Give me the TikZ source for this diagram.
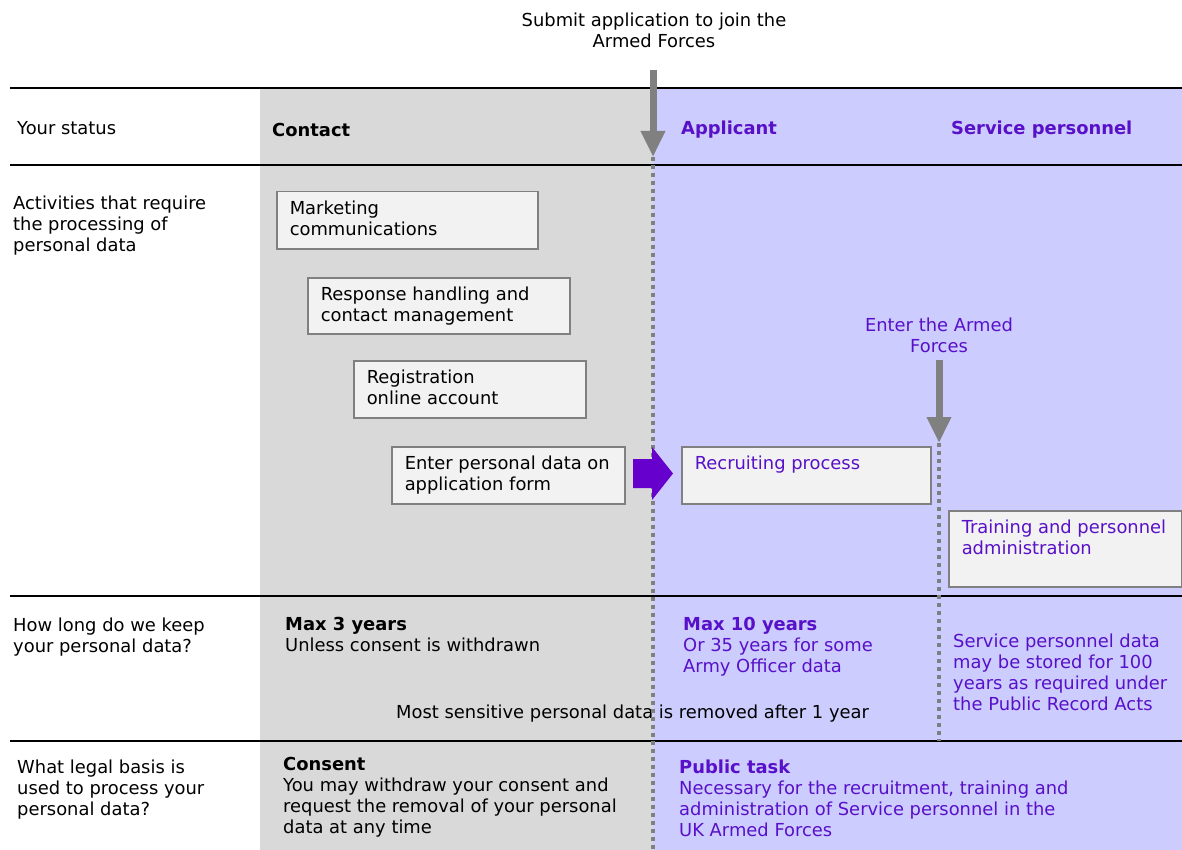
\documentclass[tikz,border=0pt]{standalone}
\usepackage{fontspec}
\setmainfont{DejaVu Sans}
\usetikzlibrary{arrows.meta}
\definecolor{greyband}{RGB}{217,217,217}
\definecolor{lavender}{RGB}{204,204,255}
\definecolor{boxfill}{RGB}{242,242,242}
\definecolor{boxline}{RGB}{128,128,128}
\definecolor{dotgrey}{RGB}{128,128,128}
\definecolor{purpletxt}{RGB}{88,16,200}
\definecolor{purplearrow}{RGB}{102,0,204}
\newcommand{\txtsize}{\fontsize{17.9pt}{21pt}\selectfont}
\newcommand{\boxtext}[3]{\parbox[t][#2][t]{#1}{\strut #3}}
\tikzset{
  lbl/.style={anchor=north west, inner sep=0pt, align=left, font=\txtsize, execute at begin node=\strut},
  clbl/.style={lbl, anchor=north, align=center},
  actbox/.style={draw=boxline, fill=boxfill, line width=1.5pt, anchor=north west,
    inner xsep=13pt, inner ysep=8.5pt, font=\txtsize},
  rowline/.style={black, line width=1.8pt},
  stageline/.style={dotgrey, line width=4.5pt, dash pattern=on 4pt off 4pt},
  stagearrow/.style={dotgrey, line width=7pt, -{Triangle[length=26pt,width=23pt]}}
}
\begin{document}
\begin{tikzpicture}[x=1pt,y=-1pt]
    \useasboundingbox (0,0) rectangle (1182,850);
    % stage backgrounds
    \fill [greyband] (260,88) rectangle (653,850);
    \fill [lavender] (653,88) rectangle (1182,850);
    % row rules
    \draw [rowline] (10,88) -- (1182,88);
    \draw [rowline] (10,165) -- (1182,165);
    \draw [rowline] (10,596) -- (1182,596);
    \draw [rowline] (10,741) -- (1182,741);
    % row headings
    \node [lbl] (status) at (17,119.5) {Your status};
    \node [lbl] (activities) at (13,195.3) {Activities that require\\the processing of\\personal data};
    \node [lbl] (howlong) at (13,617.3) {How long do we keep\\your personal data?};
    \node [lbl] (legal) at (17,759.3) {What legal basis is\\used to process your\\personal data?};
    % status columns
    \node [lbl, font=\txtsize\bfseries] (contact) at (272,121.5) {Contact};
    \node [lbl, font=\txtsize\bfseries, text=purpletxt] (applicant) at (681,119.5) {Applicant};
    \node [lbl, font=\txtsize\bfseries, text=purpletxt] (service) at (951,119.5) {Service personnel};
    % retention
    \node [lbl] (max3) at (285,617.3) {{\bfseries Max 3 years}\\Unless consent is withdrawn};
    \node [lbl, text=purpletxt] (max10) at (683,617.3) {{\bfseries Max 10 years}\\Or 35 years for some\\Army Officer data};
    \node [lbl, text=purpletxt] (max100) at (953,633.3) {Service personnel data\\may be stored for 100\\years as required under\\the Public Record Acts};
    \node [lbl] (sensitive) at (396,704) {Most sensitive personal data is removed after 1 year};
    % legal basis
    \node [lbl] (consent) at (283,757.3) {{\bfseries Consent}\\You may withdraw your consent and\\request the removal of your personal\\data at any time};
    \node [lbl, text=purpletxt] (publictask) at (679,759.3) {{\bfseries Public task}\\Necessary for the recruitment, training and\\administration of Service personnel in the\\UK Armed Forces};
    % stage changes
    \node [clbl] (submit) at (654,13) {Submit application to join the\\Armed Forces};
    \node [clbl, text=purpletxt] (enter) at (939,318) {Enter the Armed\\Forces};
    \coordinate (submittop) at (653,70);
    \coordinate (submittip) at (653,157);
    \coordinate (entertop) at (939,360);
    \coordinate (entertip) at (939,443);
    \draw [stageline] (submittip) -- (653,850);
    \draw [stageline] (entertip) -- (939,741);
    \draw [stagearrow] (submittop) -- (submittip);
    \draw [stagearrow] (entertop) -- (entertip);
    % activities
    \node [actbox] (marketing) at (276,191) {\boxtext{235pt}{40pt}{Marketing\\communications}};
    \node [actbox] (response) at (307,277) {\boxtext{236pt}{39pt}{Response handling and\\contact management}};
    \node [actbox] (registration) at (353,360) {\boxtext{206pt}{40pt}{Registration\\online account}};
    \node [actbox] (enterdata) at (391,446) {\boxtext{207pt}{40pt}{Enter personal data on\\application form}};
    \node [actbox, text=purpletxt] (recruiting) at (681,446) {\boxtext{223pt}{40pt}{Recruiting process}};
    \node [actbox, text=purpletxt] (training) at (948,510) {\boxtext{207pt}{59pt}{Training and personnel\\administration}};
    % hand over to recruiting
    \fill [purplearrow] (633,459) -- (652,459) -- (652,447) -- (673,473.5) -- (652,500) -- (652,488) -- (633,488) -- cycle;
\end{tikzpicture}
\end{document}
